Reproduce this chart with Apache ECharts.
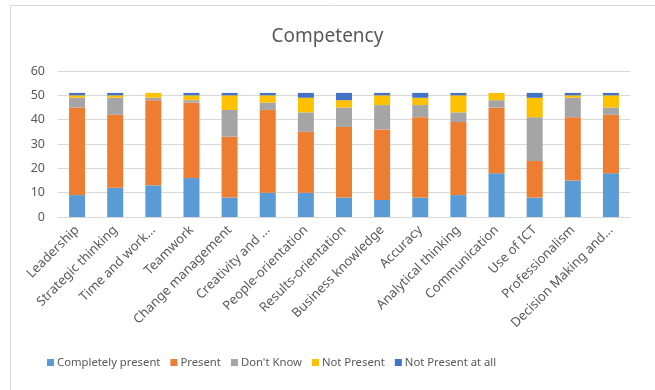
<!DOCTYPE html>
<html>
<head>
<meta charset="utf-8">
<script src="https://cdn.jsdelivr.net/npm/echarts@6/dist/echarts.min.js"></script>
<style>
  html, body { margin: 0; padding: 0; background: #fff; }
  #chart { width: 655px; height: 390px; }
</style>
</head>
<body>
<div id="chart"></div>
<script>
// Competency survey - stacked counts per competency

const categories = ['Leadership', 'Strategic thinking', 'Time and work...', 'Teamwork', 'Change management',
  'Creativity and ...', 'People-orientation', 'Results-orientation', 'Business knowledge', 'Accuracy',
  'Analytical thinking', 'Communication', 'Use of ICT', 'Professionalism', 'Decision Making and...'];

const completelyPresent = [9, 12, 13, 16, 8, 10, 10, 8, 7, 8, 9, 18, 8, 15, 18];
const present           = [36, 30, 35, 31, 25, 34, 25, 29, 29, 33, 30, 27, 15, 26, 24];
const dontKnow          = [4, 7, 1, 1, 11, 3, 8, 8, 10, 5, 4, 3, 18, 8, 3];
const notPresent        = [1, 1, 2, 2, 6, 3, 6, 3, 4, 3, 7, 3, 8, 1, 5];
const notPresentAtAll   = [1, 1, 0, 1, 1, 1, 2, 3, 1, 2, 1, 0, 2, 1, 1];

const yTicks = { min: 0, max: 60, interval: 10 };

const seriesDefs = [
  { name: 'Completely present', data: completelyPresent, color: '#5b9bd5' },
  { name: 'Present', data: present, color: '#ed7d31' },
  { name: "Don't Know", data: dontKnow, color: '#a5a5a5' },
  { name: 'Not Present', data: notPresent, color: '#ffc000' },
  { name: 'Not Present at all', data: notPresentAtAll, color: '#4472c4' }
];

const FONT = '"Noto Sans", "Open Sans", sans-serif';
const chart = echarts.init(document.getElementById('chart'), null, { renderer: 'canvas' });

chart.setOption({
  animation: false,
  textStyle: { fontFamily: FONT },
  graphic: [{
    type: 'rect',
    shape: { x: 10.5, y: 5.5, width: 700, height: 450 },
    style: { fill: 'none', stroke: '#d9d9d9', lineWidth: 1 },
    silent: true
  }],
  title: {
    text: 'Competency',
    left: 'center',
    top: 22,
    textStyle: { fontFamily: FONT, fontSize: 19, fontWeight: 'normal', color: '#595959' }
  },
  legend: {
    bottom: 17,
    left: 42,
    itemWidth: 7,
    itemHeight: 7,
    itemGap: 10,
    icon: 'rect',
    textStyle: { fontFamily: FONT, fontSize: 11.3, color: '#595959', padding: [0, 0, 0, -2] },
    data: seriesDefs.map(s => s.name)
  },
  grid: { left: 58, right: 25, top: 71, bottom: 173, containLabel: false },
  xAxis: {
    type: 'category',
    data: categories,
    axisLine: { lineStyle: { color: '#d9d9d9', width: 1 } },
    axisTick: { show: false },
    axisLabel: {
      interval: 0,
      rotate: 45,
      margin: 11,
      fontFamily: FONT,
      fontSize: 13,
      color: '#595959'
    }
  },
  yAxis: {
    type: 'value',
    min: yTicks.min,
    max: yTicks.max,
    interval: yTicks.interval,
    axisLine: { show: false },
    axisTick: { show: false },
    splitLine: { lineStyle: { color: '#d9d9d9', width: 1 } },
    axisLabel: { fontFamily: FONT, fontSize: 12.5, color: '#595959', margin: 13 }
  },
  series: seriesDefs.map(s => ({
    name: s.name,
    type: 'bar',
    stack: 'total',
    barWidth: '42%',
    data: s.data,
    itemStyle: { color: s.color }
  }))
});
</script>
</body>
</html>
